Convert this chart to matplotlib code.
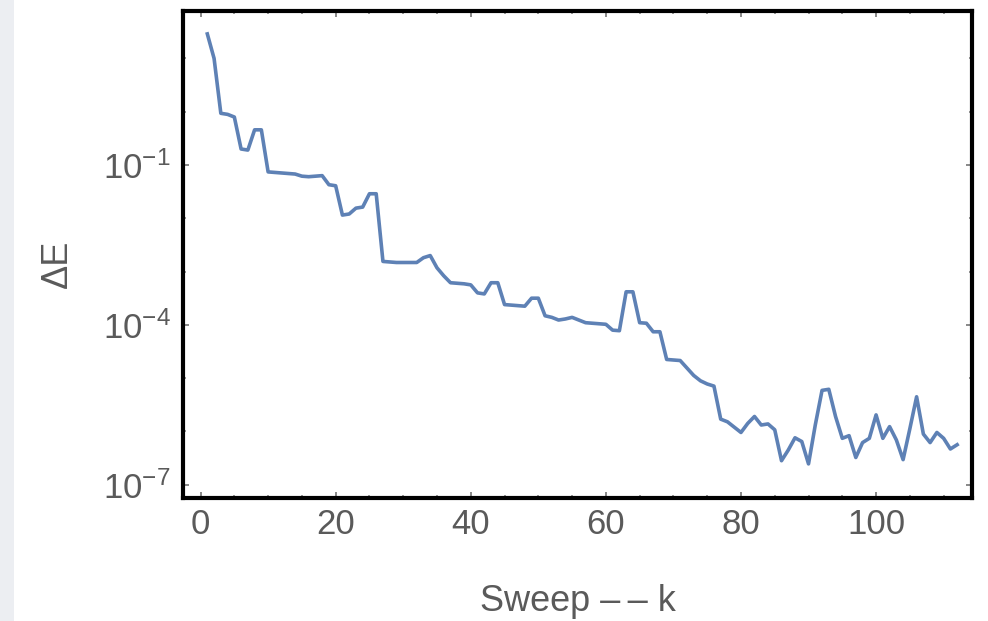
import numpy as np
import matplotlib
matplotlib.use('Agg')
import matplotlib.pyplot as plt
from matplotlib.patches import Rectangle
from matplotlib.ticker import FixedLocator, NullFormatter

plt.rcParams['font.family'] = ['Liberation Sans', 'DejaVu Sans']
plt.rcParams['mathtext.fontset'] = 'custom'
plt.rcParams['mathtext.rm'] = 'Liberation Sans'
plt.rcParams['mathtext.it'] = 'Liberation Sans'

# sweep index and log10 of the energy change
sweeps = list(range(1, 113))
log_dE = [
    1.46, 1.00, -0.03, -0.05, -0.10, -0.70, -0.72, -0.34, -0.34, -1.13,
    -1.14, -1.15, -1.16, -1.17, -1.21, -1.22, -1.21, -1.20, -1.37, -1.39,
    -1.94, -1.92, -1.81, -1.79, -1.54, -1.54, -2.81, -2.82, -2.83, -2.83,
    -2.83, -2.83, -2.74, -2.70, -2.93, -3.08, -3.21, -3.22, -3.23, -3.25,
    -3.40, -3.42, -3.21, -3.21, -3.62, -3.63, -3.64, -3.65, -3.50, -3.50,
    -3.83, -3.86, -3.91, -3.89, -3.86, -3.91, -3.96, -3.97, -3.98, -3.99,
    -4.10, -4.11, -3.38, -3.38, -3.96, -3.97, -4.13, -4.13, -4.65, -4.66,
    -4.67, -4.81, -4.95, -5.05, -5.11, -5.15, -5.77, -5.82, -5.92, -6.02,
    -5.85, -5.72, -5.88, -5.86, -5.97, -6.55, -6.35, -6.12, -6.19, -6.61,
    -5.88, -5.23, -5.21, -5.72, -6.13, -6.08, -6.49, -6.21, -6.13, -5.69,
    -6.13, -5.91, -6.16, -6.53, -5.95, -5.35, -6.05, -6.21, -6.02, -6.13,
    -6.33, -6.25,
]
xticks = [0, 20, 40, 60, 80, 100]
yticks_major = [1e-1, 1e-4, 1e-7]
yticks_labels = [r'$10^{-1}$', r'$10^{-4}$', r'$10^{-7}$']

dE = 10.0 ** np.array(log_dE)

fig = plt.figure(figsize=(9.88, 6.21), dpi=100)
fig.patches.append(Rectangle((0, 0), 14 / 988, 1, transform=fig.transFigure,
                             facecolor='#eceef2', edgecolor='none', zorder=0))
ax = fig.add_axes([183 / 988, 1 - 498 / 621, (972 - 183) / 988, (498 - 11) / 621])

ax.plot(sweeps, dE, color='#5e81b5', lw=2.6)
ax.set_yscale('log')
ax.set_xlim(-2.6, 114.2)
ax.set_ylim(10 ** -7.25, 10 ** 1.89)

ax.set_xticks(xticks)
ax.xaxis.set_minor_locator(FixedLocator([v for v in range(5, 115, 5) if v % 20]))
ax.set_yticks(yticks_major)
ax.set_yticklabels(yticks_labels)
ax.yaxis.set_minor_locator(FixedLocator([10.0 ** e for e in (1, 0, -2, -3, -5, -6)]))
ax.yaxis.set_minor_formatter(NullFormatter())

ax.tick_params(which='both', direction='in', top=True, right=True,
               color='#888888', labelcolor='#5a5a5a', labelsize=25)
ax.tick_params(which='major', length=4, width=1.4)
ax.tick_params(which='minor', length=2.5, width=1.2)
ax.tick_params(axis='x', pad=7)
ax.tick_params(axis='y', pad=9)

for s in ax.spines.values():
    s.set_linewidth(3.0)
    s.set_color('black')

ax.set_xlabel('Sweep –\u2009– k', fontsize=26, color='#5a5a5a', labelpad=31)
ax.set_ylabel('ΔE', fontsize=26, color='#5a5a5a')
ax.yaxis.set_label_coords(-0.137, 0.48)

fig.savefig('out.png', dpi=100)
